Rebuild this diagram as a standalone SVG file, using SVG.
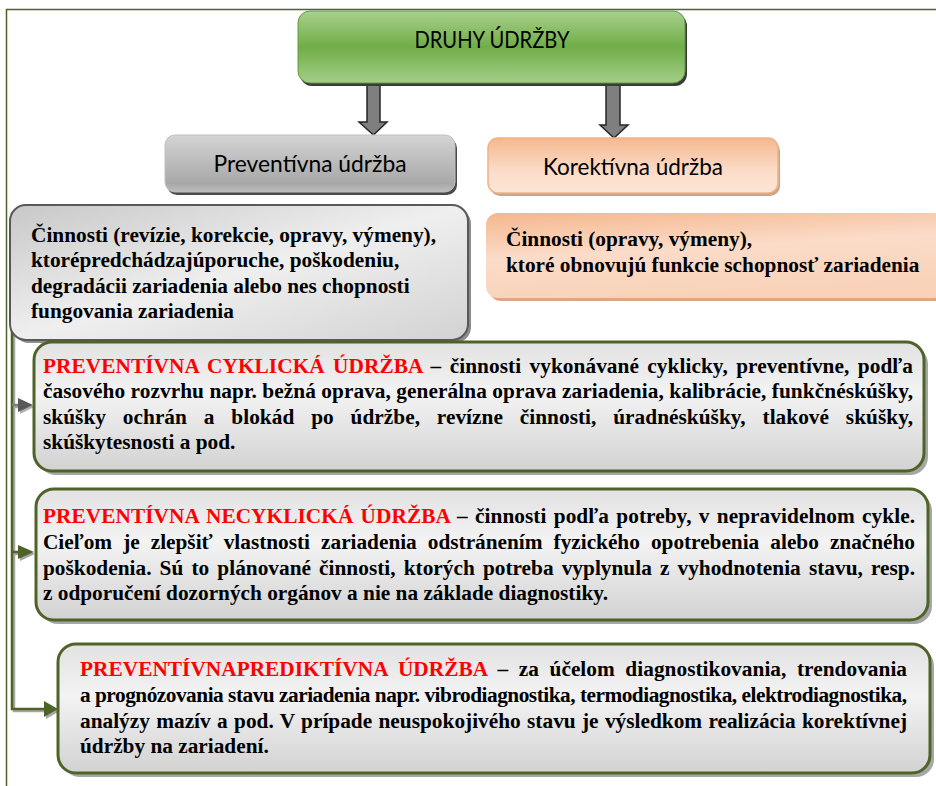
<svg xmlns="http://www.w3.org/2000/svg" width="936" height="786" viewBox="0 0 936 786">
<style>
.lbl{font-family:Lato,"Open Sans","Liberation Sans",sans-serif;font-size:23px;fill:#000;text-anchor:middle}
.body{font-family:"Liberation Serif","Times New Roman",serif;font-weight:bold;font-size:21.3px;fill:#000}
.red{fill:#ff0000}
.gbox{fill:url(#gBox);stroke:#4f6228;stroke-width:3}
.gsh{fill:#a6a6a6}
.conn{fill:none;stroke:#4f6228;stroke-width:2.5}
.connsh{fill:none;stroke:#a6a6a6;stroke-width:2.5}
.blk{fill:#7f7f7f;stroke:#262626;stroke-width:1.5}
</style>
<defs>
<linearGradient id="gGreen" x1="0" y1="0" x2="0" y2="1">
<stop offset="0" stop-color="#a9d18e"/><stop offset="0.5" stop-color="#70ad47"/><stop offset="1" stop-color="#a4ce88"/>
</linearGradient>
<linearGradient id="gGray" x1="0" y1="0" x2="0" y2="1">
<stop offset="0" stop-color="#d4d4d4"/><stop offset="0.85" stop-color="#a8a8a8"/><stop offset="1" stop-color="#bdbdbd"/>
</linearGradient>
<linearGradient id="gOrange" x1="0" y1="0" x2="0" y2="1">
<stop offset="0" stop-color="#f5b88f"/><stop offset="0.6" stop-color="#fbdcc8"/><stop offset="1" stop-color="#fce6d8"/>
</linearGradient>
<linearGradient id="gOrange2" x1="0" y1="0" x2="0.3" y2="1">
<stop offset="0" stop-color="#f5b68c"/><stop offset="0.5" stop-color="#fbdcc9"/><stop offset="1" stop-color="#f9d2b9"/>
</linearGradient>
<linearGradient id="gBox1" x1="0" y1="0" x2="1" y2="1">
<stop offset="0" stop-color="#c8c8c8"/><stop offset="0.5" stop-color="#efefef"/><stop offset="1" stop-color="#d2d2d2"/>
</linearGradient>
<linearGradient id="gBox" x1="0" y1="0" x2="0" y2="1">
<stop offset="0" stop-color="#e2e2e2"/><stop offset="0.4" stop-color="#f3f3f3"/><stop offset="1" stop-color="#d2d2d2"/>
</linearGradient>
</defs>
<rect width="936" height="786" fill="#fff"/>
<path d="M6.5,786 V9.5 H936" fill="none" stroke="#4f6228" stroke-width="1.5"/>

<g id="connectors">
<path class="connsh" d="M14,300 V711 H46 M14,407 H22 M14,554 H22"/>
<path class="conn" d="M12,300 V709 H46 M12,552 H20"/>
<path d="M12,405 H20" fill="none" stroke="#7f7f7f" stroke-width="2.5"/>
<polygon points="20,400 34,407 20,414" fill="#b0b0b0"/>
<polygon points="18,398 33,405 18,412" fill="#595959"/>
<polygon points="20,547 35,554 20,561" fill="#a6a6a6"/>
<polygon points="18,545 34,552 18,559" fill="#4f6228"/>
<polygon points="46,703 60,711 46,719" fill="#a6a6a6"/>
<polygon points="44,701 58,709 44,717" fill="#4f6228"/>
<polygon class="blk" points="367,83 380,83 380,122 387,122 373.5,135 359,122 367,122"/>
<polygon class="blk" points="606,84 620,84 620,125 628,125 614,138 600,125 606,125"/>
</g>

<g id="druhy">
<rect x="300" y="14" width="387" height="72" rx="12" fill="#3a3a3a"/>
<rect x="298" y="11" width="387" height="72" rx="12" fill="url(#gGreen)" stroke="#5e9a3a" stroke-width="1"/>
<text class="lbl" x="492" y="48" textLength="155" lengthAdjust="spacingAndGlyphs">DRUHY ÚDRŽBY</text>
</g>

<g id="preventivna">
<rect x="167" y="138" width="290" height="57" rx="10" fill="#4a4a4a"/>
<rect x="165" y="135" width="290" height="57" rx="10" fill="url(#gGray)" stroke="#c0c0c0" stroke-width="1"/>
<text class="lbl" x="310" y="172" textLength="193" lengthAdjust="spacingAndGlyphs">Preventívna údržba</text>
</g>

<g id="korektivna">
<rect x="490" y="141" width="290" height="55" rx="10" fill="#c9a58c"/>
<rect x="488" y="138" width="290" height="55" rx="10" fill="url(#gOrange)" stroke="#f4b183" stroke-width="1.5"/>
<text class="lbl" x="633" y="175" textLength="180" lengthAdjust="spacingAndGlyphs">Korektívna údržba</text>
</g>

<g id="prev-cinnosti">
<rect x="13" y="208" width="458" height="135" rx="16" fill="#8c8c8c"/>
<rect x="10" y="205" width="458" height="135" rx="16" fill="url(#gBox1)" stroke="#595959" stroke-width="2"/>
<text class="body" x="31" y="242">Činnosti (revízie, korekcie, opravy, výmeny),</text>
<text class="body" x="31" y="267">ktorépredchádzajúporuche, poškodeniu,</text>
<text class="body" x="31" y="293">degradácii zariadenia alebo nes chopnosti</text>
<text class="body" x="31" y="318">fungovania zariadenia</text>
</g>

<g id="kor-cinnosti">
<rect x="489" y="216" width="460" height="85" rx="12" fill="#d9a888"/>
<rect x="486" y="213" width="460" height="85" rx="12" fill="url(#gOrange2)"/>
<text class="body" x="506" y="246">Činnosti (opravy, výmeny),</text>
<text class="body" x="506" y="272">ktoré obnovujú funkcie schopnosť zariadenia</text>
</g>

<g id="cyklicka">
<rect class="gsh" x="38" y="346" width="890" height="129" rx="18"/>
<rect class="gbox" x="34" y="342" width="890" height="129" rx="18"/>
<text class="body" x="43" y="373" word-spacing="3" textLength="870" lengthAdjust="spacing"><tspan class="red">PREVENTÍVNA CYKLICKÁ ÚDRŽBA</tspan> – činnosti vykonávané cyklicky, preventívne, podľa</text>
<text class="body" x="43" y="398" textLength="870" lengthAdjust="spacing">časového rozvrhu napr. bežná oprava, generálna oprava zariadenia, kalibrácie, funkčnéskúšky,</text>
<text class="body" x="43" y="424" word-spacing="11.5" textLength="870" lengthAdjust="spacing">skúšky ochrán a blokád po údržbe, revízne činnosti, úradnéskúšky, tlakové skúšky,</text>
<text class="body" x="43" y="449">skúškytesnosti a pod.</text>
</g>

<g id="necyklicka">
<rect class="gsh" x="40" y="493" width="892" height="131" rx="18"/>
<rect class="gbox" x="36" y="489" width="892" height="131" rx="18"/>
<text class="body" x="43" y="523" word-spacing="1.9" textLength="872" lengthAdjust="spacing"><tspan class="red">PREVENTÍVNA NECYKLICKÁ ÚDRŽBA</tspan> – činnosti podľa potreby, v nepravidelnom cykle.</text>
<text class="body" x="43" y="549" word-spacing="5.8" textLength="872" lengthAdjust="spacing">Cieľom je zlepšiť vlastnosti zariadenia odstránením fyzického opotrebenia alebo značného</text>
<text class="body" x="43" y="575" word-spacing="2.8" textLength="872" lengthAdjust="spacing">poškodenia. Sú to plánované činnosti, ktorých potreba vyplynula z vyhodnotenia stavu, resp.</text>
<text class="body" x="43" y="600">z odporučení dozorných orgánov a nie na základe diagnostiky.</text>
</g>

<g id="prediktivna">
<rect class="gsh" x="62" y="648" width="872" height="129" rx="18"/>
<rect class="gbox" x="58" y="644" width="872" height="129" rx="18"/>
<text class="body" x="80" y="676" word-spacing="5.2" textLength="827" lengthAdjust="spacing"><tspan class="red">PREVENTÍVNAPREDIKTÍVNA ÚDRŽBA</tspan> – za účelom diagnostikovania, trendovania</text>
<text class="body" x="80" y="702" textLength="827" lengthAdjust="spacing">a prognózovania stavu zariadenia napr. vibrodiagnostika, termodiagnostika, elektrodiagnostika,</text>
<text class="body" x="80" y="728" word-spacing="1" textLength="827" lengthAdjust="spacing">analýzy mazív a pod. V prípade neuspokojivého stavu je výsledkom realizácia korektívnej</text>
<text class="body" x="80" y="753">údržby na zariadení.</text>
</g>
</svg>
